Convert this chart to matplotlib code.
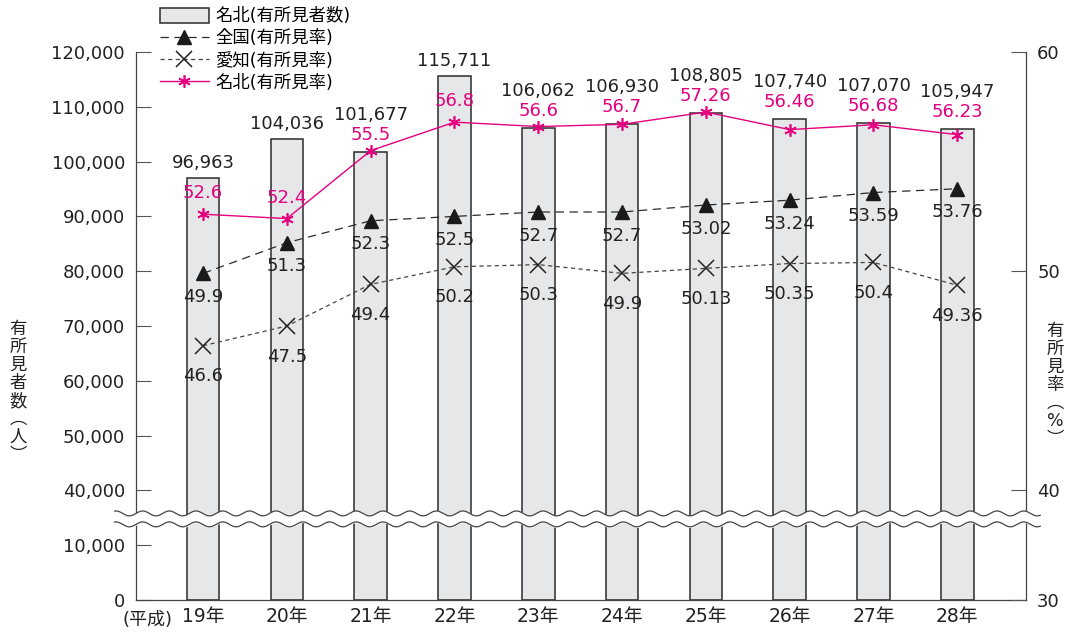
import matplotlib

matplotlib.use("Agg")
import matplotlib.pyplot as plt
import numpy as np

plt.rcParams["font.family"] = ["DejaVu Sans", "Noto Sans CJK JP"]
plt.rcParams["lines.scale_dashes"] = False

years = ["19年", "20年", "21年", "22年", "23年", "24年", "25年", "26年", "27年", "28年"]
visitors = [96963, 104036, 101677, 115711, 106062, 106930, 108805, 107740, 107070, 105947]
rate_national = [49.9, 51.3, 52.3, 52.5, 52.7, 52.7, 53.02, 53.24, 53.59, 53.76]
rate_aichi = [46.6, 47.5, 49.4, 50.2, 50.3, 49.9, 50.13, 50.35, 50.4, 49.36]
rate_meihoku = [52.6, 52.4, 55.5, 56.8, 56.6, 56.7, 57.26, 56.46, 56.68, 56.23]
rate_meihoku_txt = ["52.6", "52.4", "55.5", "56.8", "56.6", "56.7", "57.26", "56.46", "56.68", "56.23"]
rate_national_txt = ["49.9", "51.3", "52.3", "52.5", "52.7", "52.7", "53.02", "53.24", "53.59", "53.76"]
rate_aichi_txt = ["46.6", "47.5", "49.4", "50.2", "50.3", "49.9", "50.13", "50.35", "50.4", "49.36"]
left_ticks = [0, 10000, 40000, 50000, 60000, 70000, 80000, 90000, 100000, 110000, 120000]
right_ticks = [30, 40, 50, 60]

PINK = "#e4007f"
DARK = "#2b2b2b"


# broken axis: 0-10,000 is one step, 10,000-40,000 squeezed into one step
def left_fwd(v):
    v = np.asarray(v, float)
    return np.where(v <= 10000, v / 10000,
                    np.where(v >= 40000, (v - 40000) / 10000 + 2, 1 + (v - 10000) / 30000))


def left_inv(p):
    p = np.asarray(p, float)
    return np.where(p <= 1, p * 10000,
                    np.where(p >= 2, (p - 2) * 10000 + 40000, 10000 + (p - 1) * 30000))


def right_fwd(r):
    r = np.asarray(r, float)
    return np.where(r <= 40, (r - 30) * 0.2, 2 + (r - 40) * 0.4)


def right_inv(p):
    p = np.asarray(p, float)
    return np.where(p <= 2, 30 + p / 0.2, 40 + (p - 2) / 0.4)


fig = plt.figure(figsize=(10.73, 6.32), dpi=100)
ax = fig.add_axes([136 / 1073, 32 / 632, 890 / 1073, 548 / 632])
ax.set_yscale("function", functions=(left_fwd, left_inv))
ax.set_ylim(0, 120000)
x = np.arange(len(years))
ax.set_xlim(-0.8, 9.82)

bars = ax.bar(x, visitors, width=0.39, color="#e6e7e8", edgecolor=DARK, linewidth=1.1, zorder=2)

ax.set_yticks(left_ticks, [f"{t:,}" for t in left_ticks])
ax.tick_params(axis="y", direction="in", length=11, width=0.8, color="#555",
               labelsize=13, pad=8, labelcolor="#222")
ax.set_xticks(x, years)
ax.tick_params(axis="x", length=0, labelsize=13.5, pad=5, labelcolor="#222")
ax.yaxis.set_minor_locator(matplotlib.ticker.NullLocator())
ax.text(0.013, -0.02, "(平成)", transform=ax.transAxes, ha="center", va="top",
        fontsize=13, color="#222")
for s in ("top", "right"):
    ax.spines[s].set_visible(False)
for s in ("left", "bottom"):
    ax.spines[s].set_color("#444")
    ax.spines[s].set_linewidth(0.9)

ax2 = ax.twinx()
ax2.set_yscale("function", functions=(right_fwd, right_inv))
ax2.set_ylim(30, 60)
ax2.set_yticks(right_ticks, [str(t) for t in right_ticks])
ax2.yaxis.set_minor_locator(matplotlib.ticker.NullLocator())
ax2.tick_params(axis="y", direction="in", length=11, width=0.8, color="#555",
                labelsize=13, pad=8, labelcolor="#222")
for s in ("top", "left", "bottom"):
    ax2.spines[s].set_visible(False)
ax2.spines["right"].set_color("#444")
ax2.spines["right"].set_linewidth(0.9)

ln_nat, = ax2.plot(x, rate_national, color=DARK, lw=0.9, dashes=(6, 4),
                   marker="^", ms=10, mfc="#1a1a1a", mec="#1a1a1a", zorder=4)
ln_aichi, = ax2.plot(x, rate_aichi, color="#444", lw=0.9, dashes=(3, 2.5),
                     marker="x", ms=11, mew=1.1, mec="#222", zorder=4)
ln_mei, = ax2.plot(x, rate_meihoku, color=PINK, lw=1.0, marker=(6, 2, 0), ms=9,
                   mew=1.2, mec=PINK, zorder=4)

# label layout: pink rate sits above its marker, or above the bar top when the
# marker is close to it; the bar value then goes above whichever is higher
unit_px = 548 / 10
PT = 0.72
for xi, v, r, t in zip(x, visitors, rate_meihoku, rate_meihoku_txt):
    bar_h = float(left_fwd(v)) * unit_px
    mk_h = float(right_fwd(r)) * unit_px
    pink_h = bar_h + 17 if bar_h - mk_h < 20 else mk_h + 21
    lab_h = max(bar_h + 15, pink_h + 20)
    ax2.annotate(t, (xi, r), xytext=(0, (pink_h - mk_h) * PT), textcoords="offset points",
                 ha="center", va="center", fontsize=13, color=PINK)
    ax.annotate(f"{v:,}", (xi, v), xytext=(0, (lab_h - bar_h) * PT), textcoords="offset points",
                ha="center", va="center", fontsize=13, color="#222")
for xi, v, t in zip(x, rate_national, rate_national_txt):
    ax2.annotate(t, (xi, v), xytext=(0, -17), textcoords="offset points",
                 ha="center", va="center", fontsize=13, color="#222")
for xi, v, t in zip(x, rate_aichi, rate_aichi_txt):
    ax2.annotate(t, (xi, v), xytext=(0, -22), textcoords="offset points",
                 ha="center", va="center", fontsize=13, color="#222")

# wavy break marks across both axes
xs = np.linspace(-0.024, 1.016, 600)
wave = 0.0045 * np.sin(2 * np.pi * xs / 0.03)
lo, hi = 0.138 + wave, 0.158 + wave
ax2.fill_between(xs, lo, hi, color="white", transform=ax2.transAxes, clip_on=False, zorder=10)
ax2.plot(xs, lo, color="#444", lw=0.9, transform=ax2.transAxes, clip_on=False, zorder=11)
ax2.plot(xs, hi, color="#444", lw=0.9, transform=ax2.transAxes, clip_on=False, zorder=11)

# vertical axis titles
fig.text(18 / 1073, 1 - 392 / 632, "\n".join("有所見者数︵人︶"), ha="center", va="center",
         fontsize=12.5, linespacing=1.0, color="#222")
fig.text(1055 / 1073, 1 - 385 / 632, "\n".join("有所見率︵%︶"), ha="center", va="center",
         fontsize=12.5, linespacing=1.0, color="#222")

fig.legend([bars, ln_nat, ln_aichi, ln_mei],
           ["名北(有所見者数)", "全国(有所見率)", "愛知(有所見率)", "名北(有所見率)"],
           loc="upper left", bbox_to_anchor=(160 / 1073, 1 - 7 / 632), frameon=False,
           fontsize=12.5, handlelength=2.8, handleheight=0.95, labelspacing=0.25,
           handletextpad=0.4, borderaxespad=0, borderpad=0)

fig.savefig("out.png", dpi=100)
